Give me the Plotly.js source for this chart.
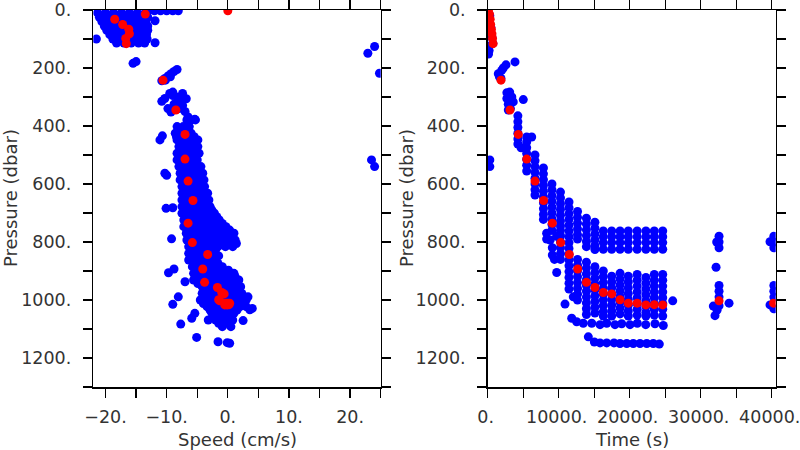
<!DOCTYPE html>
<html><head><meta charset="utf-8">
<script src="https://cdn.plot.ly/plotly-3.0.1.min.js"></script>
<style>html,body{margin:0;padding:0;background:#fff}#chart{width:800px;height:450px}</style>
</head><body><div id="chart"></div>
<script>
// ---------- LEFT PANEL: speed (cm/s) vs pressure (dbar) ----------
// blue cloud, stored as rows: pressure of the row and the speeds on it
const speedRowPress = [3, 10, 18, 25, 33, 40, 48, 55, 62, 70, 78, 85, 92, 100, 107, 114,
  379, 402, 425, 437, 448, 460, 471, 483, 494, 506, 517, 529, 540, 552, 563, 575, 586, 598,
  609, 621, 632, 644, 655, 667, 678, 690, 701, 713, 724, 736, 747, 759,
  770, 782, 793, 805, 816, 828, 839, 851, 862, 874, 885, 897, 908, 920, 931, 943, 954, 966,
  977, 989, 1000, 1012, 1023, 1035, 1046, 1058, 1069, 1080, 1092];
const speedRowValues = [
  [-13.0,-12.0,-11.0,-10.0,-9.0,-8.1],
  [-21.3,-20.0,-18.7,-17.4,-16.1,-14.8,-13.5],
  [-20.6,-19.3,-18.0,-16.7,-15.4,-14.1],
  [-21.0,-19.8,-18.6,-17.4,-16.2,-15.0,-13.9,-13.1],
  [-20.2,-19.0,-17.8,-16.6,-15.4,-14.2],
  [-20.6,-19.4,-18.2,-17.0,-15.8,-14.6,-13.4],
  [-19.9,-18.7,-17.5,-16.3,-15.1,-13.9],
  [-20.2,-19.0,-17.8,-16.6,-15.4,-14.2,-13.1],
  [-19.5,-18.3,-17.1,-15.9,-14.7,-13.5],
  [-19.8,-18.6,-17.4,-16.2,-15.0,-13.8,-13.1],
  [-19.1,-17.9,-16.7,-15.5,-14.3],
  [-19.3,-18.1,-16.9,-15.7,-14.5,-13.3],
  [-18.6,-17.4,-16.2,-15.0,-13.8],
  [-18.8,-17.6,-16.4,-15.2,-14.0,-13.2],
  [-18.0,-16.8,-15.6,-14.4],
  [-18.2,-17.0,-15.8,-14.6,-13.6],
  [-6.7,-6.0,-5.3],
  [-8.3,-7.3,-6.3],
  [-8.6,-7.6,-6.6,-6.0],
  [-8.4,-7.4,-6.4,-5.5],
  [-8.3,-7.2,-6.1,-4.9],
  [-7.6,-6.5,-5.4],
  [-8.0,-6.9,-5.9,-4.9],
  [-7.6,-6.5,-5.3],
  [-8.3,-7.1,-5.9,-4.7],
  [-7.7,-6.6,-5.5],
  [-8.3,-7.2,-6.1,-5.0],
  [-7.6,-6.4,-5.2],
  [-8.0,-6.8,-5.6,-4.4],
  [-7.4,-6.2,-5.0],
  [-7.8,-6.6,-5.3,-4.1],
  [-7.2,-5.9,-4.6],
  [-7.8,-6.5,-5.2,-3.9],
  [-7.0,-5.7,-4.4],
  [-7.5,-6.3,-5.0,-3.8],
  [-6.9,-5.6,-4.2],
  [-7.5,-6.1,-4.7,-3.3],
  [-6.8,-5.4,-4.0],
  [-7.5,-6.0,-4.6,-3.1],
  [-6.8,-5.3,-3.7],
  [-7.5,-6.0,-4.4,-2.9],
  [-6.8,-5.4,-4.0,-2.6],
  [-7.5,-6.2,-4.8,-3.5,-2.2],
  [-6.8,-5.4,-4.1,-2.8,-1.8],
  [-7.2,-5.8,-4.3,-2.9,-1.4],
  [-6.5,-5.1,-3.7,-2.3,-0.9],
  [-7.2,-5.8,-4.4,-3.0,-1.6,-0.3],
  [-6.5,-5.0,-3.7,-2.3,-1.0,0.3],
  [-6.8,-5.5,-4.2,-2.9,-1.6,-0.3,1.0],
  [-6.1,-4.8,-3.5,-2.2,-0.9,0.4],
  [-6.7,-5.4,-4.1,-2.8,-1.5,-0.2,1.2],
  [-6.0,-4.8,-3.5,-2.2,-1.0,0.2,1.4],
  [-6.4,-5.2,-4.0,-2.8,-1.6,-0.4,0.8],
  [-5.8,-4.6,-3.3,-2.0],
  [-6.4,-5.1,-3.8,-2.5],
  [-5.7,-4.4,-3.0],
  [-6.4,-5.0,-3.6,-2.3],
  [-5.5,-4.2,-2.9,-1.6],
  [-5.8,-4.6,-3.4,-2.1,-0.9],
  [-5.0,-3.8,-2.6,-1.2,0.1],
  [-5.6,-4.3,-3.0,-1.6,-0.3,1.0],
  [-5.0,-3.8,-2.5,-1.2,0.0,1.2],
  [-5.6,-4.4,-3.2,-2.0,-0.8,0.5,1.8],
  [-4.9,-3.8,-2.6,-1.4,-0.3,0.8],
  [-4.2,-3.1,-2.0,-0.9,0.2,1.2,2.1],
  [-3.6,-2.5,-1.4,-0.3,0.7,1.7],
  [-4.2,-3.1,-2.0,-0.9,0.2,1.3,2.3],
  [-3.8,-2.8,-1.7,-0.6,0.5,1.5,2.5],
  [-4.5,-3.4,-2.3,-1.2,-0.1,1.0,2.0,3.0],
  [-4.0,-2.9,-1.8,-0.7,0.4,1.5,2.5],
  [-3.4,-2.3,-1.2,-0.1,1.0,2.0,3.0],
  [-2.9,-1.8,-0.7,0.4,1.5],
  [-2.6,-1.4,-0.2,1.0],
  [-2.3,-1.0,0.3],
  [-2.0,-0.6,0.8],
  [-1.5,-0.2],
  [-0.9,0.5]
];
// scattered blue points
const speedSolo = [-11.9,-11.9,-21.5,-15.5,-15.0,
  -10.8,-10.3,-9.8,-9.3,-8.8,-8.3,-10.2,-9.4,
  -10.8,-10.3,-9.5,-9.0,-7.4,-6.8,-7.4,-9.3,-9.8,-8.3,-7.8,-8.8,-8.0,-6.5,-5.4,-9.0,-7.0,
  -11.1,-10.7,-10.3,-10.0,-10.1,-9.0,-9.2,-9.7,-8.8,-8.1,-9.0,-5.4,-5.9,-7.7,-5.1,-1.6,-0.1,0.3,2.5,4.0,3.6,3.3,-3.2,-1.5,-7.0,
  22.9,24.0,24.8,23.5,24.0];
const pressSolo = [37,113,100,184,178,
  244,236,228,220,212,205,242,230,
  315,305,288,283,288,306,329,352,340,300,315,325,340,369,377,295,350,
  448,434,563,570,684,682,789,906,893,989,1015,1046,1063,1083,1129,1144,1147,1149,1071,1029,1034,989,1069,848,937,
  149,126,218,517,540];

// ---------- RIGHT PANEL: time (s) vs pressure (dbar) ----------
const profileTime = [4250, 5490, 6660, 7850, 9050, 10250, 11450, 12650, 13900, 15100,
  16280, 17460, 18640, 19800, 21050, 22280, 23460, 24650];
const profilePress = [
  [365,385,405,425,445,462],
  [455,475,495,515,535,555],
  [500,520,540,560,580,600,620,638],
  [545,565,585,605,625,645,665,685,705,722],
  [600,620,640,660,680,700,720,740,760],
  [628,648,668,688,708,728,745,760,780,800,820,840,860],
  [662,682,702,722,742,762,782,802,822,842,862,882,902,922,942,962],
  [695,715,735,755,775,790,860,880,900,920,940,960,980,1000],
  [718,738,758,778,798,816,870,890,910,930,950,970,990,1010,1030,1050],
  [732,752,772,792,812,826,885,905,925,945,965,985,1005,1025,1045],
  [762,782,802,825,900,920,940,960,980,1000,1020,1040,1055],
  [762,782,802,825,918,938,958,978,998,1018,1038,1055],
  [762,782,802,825,908,928,948,968,988,1008,1028,1048],
  [762,782,802,825,918,938,958,978,998,1018,1038,1055],
  [762,782,802,825,912,932,952,972,992,1012,1032,1052],
  [762,782,802,825,922,942,962,982,1002,1022,1042,1055],
  [762,782,802,825,912,932,952,972,992,1012,1032,1052],
  [762,782,802,825,912,932,952,972,992,1012,1032,1055]
];
const timeSolo = [150,200,120,300,450,600,720,300,300,
  3845,2577,2197,1493,1972,1873,1650,
  2700,3100,2700,3100,3400,2900,3200,3600,5014,2900,
  4700,5493,6197,
  8300,8300,8800,9100,9100,9400,9700,10200,
  9718,10888,12056,11830,12530,13460,
  14650,15820,16760,17930,18870,20040,21070,22255,23560,24730,
  14170,15020,15820,16760,17790,18634,19580,20500,21450,22400,23320,24170,
  26058,
  32580,32580,32580,32250,32160,32580,32580,32580,32580,32300,31775,32010,33990,
  39760,40300,40300,40300,39760,40300,40300,40300,40300];
const pressTimeSolo = [125,140,152,20,60,95,115,517,540,
  179,189,200,220,208,236,230,
  285,283,305,305,300,325,340,317,309,345,
  475,438,438,
  770,790,793,820,845,860,780,775,
  905,1014,989,1063,1075,1080,
  1080,1085,1080,1085,1082,1085,1080,1085,1082,1088,
  1127,1145,1148,1148,1148,1150,1150,1150,1150,1150,1150,1152,
  1003,
  780,800,820,800,887,950,970,990,1020,1035,1021,1054,1011,
  799,780,800,820,1017,950,970,990,1030];

// ---------- RED: mean profile (shared pressures) ----------
const redPress = [3,14,32,50,66,82,98,116,
  242,345,429,514,590,657,735,802,843,893,939,957,974,979,999,1011,1011,1017,1016,1017,1003,1011];
const redSpeed = [0.0,-13.5,-18.5,-17.2,-16.2,-16.1,-16.7,-16.6,
  -10.6,-8.5,-7.0,-7.0,-6.5,-5.7,-6.5,-5.8,-3.3,-4.1,-3.8,-1.7,-1.0,-0.6,-1.5,-0.3,0.0,-0.5,0.2,-0.1,-1.3,0.3];
const redTime = [100,250,350,420,520,600,680,760,
  1873,3141,4310,5493,6662,7870,9099,10282,11493,12676,13900,15100,16280,17460,18640,19800,21050,22280,23460,24650,32580,40250];

// ---------- ticks ----------
const pressTickVals = [0,100,200,300,400,500,600,700,800,900,1000,1100,1200,1300];
const pressTickText = ['0.','','200.','','400.','','600.','','800.','','1000.','','1200.',''];
const speedTickVals = [-20,-15,-10,-5,0,5,10,15,20,25];
const speedTickText = ['\u221220.','','\u221210.','','0.','','10.','','20.',''];
const timeTickVals = [0,5000,10000,15000,20000,25000,30000,35000,40000];
const timeTickText = ['0.','','10000.','','20000.','','30000.','','40000.'];

// ---------- build ----------
const lbx = [], lby = [];
speedRowPress.forEach((p, i) => speedRowValues[i].forEach(s => { lbx.push(s); lby.push(p); }));
speedSolo.forEach((s, i) => { lbx.push(s); lby.push(pressSolo[i]); });
const rbx = [], rby = [];
profileTime.forEach((t, i) => profilePress[i].forEach(p => { rbx.push(t); rby.push(p); }));
timeSolo.forEach((t, i) => { rbx.push(t); rby.push(pressTimeSolo[i]); });

const FONT = "'DejaVu Sans', sans-serif";
const TXT = '#333';
const fnt = {family: FONT, size: 18, color: TXT};
const tickFnt = {family: FONT, size: 17.5, color: TXT};
const blueM = {color: '#0000ff', size: 9};
const redM = {color: '#ff0000', size: 9};
const traces = [
  {x: lbx, y: lby, type: 'scatter', mode: 'markers', marker: blueM, xaxis: 'x', yaxis: 'y', hoverinfo: 'skip'},
  {x: redSpeed, y: redPress, type: 'scatter', mode: 'markers', marker: redM, xaxis: 'x', yaxis: 'y', hoverinfo: 'skip'},
  {x: rbx, y: rby, type: 'scatter', mode: 'markers', marker: blueM, xaxis: 'x2', yaxis: 'y2', hoverinfo: 'skip'},
  {x: redTime, y: redPress, type: 'scatter', mode: 'markers', marker: redM, xaxis: 'x2', yaxis: 'y2', hoverinfo: 'skip'}
];
const axisBase = {
  showline: true, linecolor: '#000', linewidth: 1.5, mirror: 'ticks',
  ticks: 'outside', ticklen: 9, tickwidth: 1.3, tickcolor: '#000',
  showgrid: false, zeroline: false, tickfont: tickFnt,
  tickmode: 'array', ticklabeloverflow: 'allow'
};
const yDom = [1 - 387/450, 1 - 10/450];
const layout = {
  width: 800, height: 450, showlegend: false,
  paper_bgcolor: '#fff', plot_bgcolor: '#fff',
  margin: {l: 0, r: 0, t: 0, b: 0},
  xaxis: Object.assign({}, axisBase, {domain: [93.3/800, 380.7/800], range: [-22, 25],
    tickvals: speedTickVals, ticktext: speedTickText, anchor: 'y', ticklabelstandoff: 4}),
  yaxis: Object.assign({}, axisBase, {domain: yDom, range: [1300, 0],
    tickvals: pressTickVals, ticktext: pressTickText, anchor: 'x', ticklabelstandoff: 8}),
  xaxis2: Object.assign({}, axisBase, {domain: [487.7/800, 775.7/800], range: [0, 40560],
    tickvals: timeTickVals, ticktext: timeTickText, anchor: 'y2', ticklabelstandoff: 4,
    ticklabelshift: -2}),
  yaxis2: Object.assign({}, axisBase, {domain: yDom, range: [1300, 0],
    tickvals: pressTickVals, ticktext: pressTickText, anchor: 'x2', ticklabelstandoff: 8}),
  annotations: [
    {text: 'Pressure (dbar)', xref: 'paper', yref: 'paper', x: 11/800, y: 1 - 198/450, textangle: -90,
     showarrow: false, xanchor: 'center', yanchor: 'middle', font: fnt},
    {text: 'Pressure (dbar)', xref: 'paper', yref: 'paper', x: 407/800, y: 1 - 198/450, textangle: -90,
     showarrow: false, xanchor: 'center', yanchor: 'middle', font: fnt},
    {text: 'Speed (cm/s)', xref: 'paper', yref: 'paper', x: 237/800, y: 1 - 439/450,
     showarrow: false, xanchor: 'center', yanchor: 'middle', font: fnt},
    {text: 'Time (s)', xref: 'paper', yref: 'paper', x: 631.7/800, y: 1 - 439/450,
     showarrow: false, xanchor: 'center', yanchor: 'middle', font: fnt}
  ]
};
Plotly.newPlot('chart', traces, layout, {staticPlot: true, displayModeBar: false});
</script>
</body></html>
